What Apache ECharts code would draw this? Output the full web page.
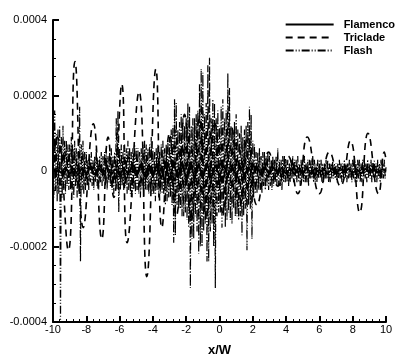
<!DOCTYPE html>
<html>
<head>
<meta charset="utf-8">
<script src="https://cdn.jsdelivr.net/npm/echarts@6/dist/echarts.min.js"></script>
<style>
  html, body { margin: 0; padding: 0; background: #fff; }
  #chart { width: 407px; height: 362px; }
</style>
</head>
<body>
<div id="chart"></div>
<script>
  // values in units of 1e-5
  const UNIT = 1e-5

  // Flamenco: sampled every 0.25 from x=-10
  const flamencoX0 = -10
  const flamencoDx = 0.25
  const flamencoY = [
    0, 0.8, -0.6, 1.0, -0.9, 0.7, -1.1, 0.9, -0.8, 1.2,
    -1.0, 0.8, -0.7, 1.1, -0.9, 0.6, -1.2, 1.0, -0.8, 0.9,
    -1.3, 1.4, -1.5, 1.8, -1.6, 2.0, -2.2, 1.9, -2.4, 2.1,
    -1.8, 2.3, -2.0, 2.5, -2.1, 1.9, -1.7, 2.2, -1.9, 1.6,
    -1.4, 1.5, -1.3, 1.2, -1.1, 1.4, -1.2, 1.0, -0.9, 1.1,
    -1.0, 0.8, -0.9, 1.0, -0.7, 0.9, -0.8, 0.7, -0.9, 0.8,
    -0.6, 0.9, -0.7, 0.8, -0.6, 0.7, -0.8, 0.6, -0.7, 0.8,
    -0.5, 0.7, -0.6, 0.5, -0.7, 0.6, -0.5, 0.6, -0.4, 0.5,
    0
  ]

  // Triclade: peaks and troughs as read
  const tricladeX = [
    -10.0, -9.75, -9.08, -8.68, -8.18, -7.58, -7.07, -6.69, -6.35, -5.87,
    -5.55, -4.83, -4.37, -3.82, -3.46, -3.0, -2.6, -2.1, -1.7, -1.2,
    -0.8, -0.3, 0.2, 0.7, 1.2, 1.7, 2.25, 2.95, 3.5, 4.1,
    4.7, 5.27, 6.0, 6.6, 7.26, 7.86, 8.42, 8.92, 9.55, 9.9, 10.0
  ]
  const tricladeY = [
    2, 9, -21, 29, -15, 12.5, -18, 9, -7, 23,
    -19, 21, -28, 27, -15, 10, -12, 15, -13, 14,
    -12, 13, -11, 12, -10, 9, -9, 5, -4, 4,
    -6, 9, -6, 5, -4, 8, -11, 10, -6, 5, 3
  ]

  // Flash: sampled every 0.05 from x=-10, one row per unit of x
  const flashX0 = -10
  const flashDx = 0.05
  const flashY = [
    5, -7, 16, -5, 10, -8, 11, -6, 12, -41, 9, -7, 12, -5, 8, -6, 8, -4, 7, -5,
    7, -5, 9, -6, 6, -7, 8, -4, 6, -7, 5, -6, 17, -24, 7, -5, 8, -6, 5, -5,
    5, -4, 3, -5, 4, -3, 5, -4, 3, -5, 4, -3, 6, -4, 3, -5, 4, -3, 5, -4,
    4, -3, 5, -4, 6, -5, 4, -3, 5, -4, 6, -5, 4, -6, 5, -4, 14, -5, 16, -11,
    6, -5, 7, -4, 5, -5, 7, -4, 6, -6, 8, -5, 6, -6, 5, -7, 6, -5, 7, -6,
    6, -5, 6, -6, 5, -7, 6, -5, 7, -7, 8, -5, 7, -5, 6, -6, 7, -6, 9, -6,
    6, -6, 5, -8, 6, -5, 7, -7, 5, -6, 7, -6, 8, -6, 6, -9, 7, -8, 8, -7,
    9, -7, 11, -9, 12, -19, 19, -17, 18, -9, 11, -10, 13, -10, 15, -12, 14, -12, 12, -11,
    14, -13, 18, -15, 17, -31, 12, -18, 14, -18, 14, -12, 15, -16, 16, -22, 23, -20, 27, -20,
    26, -16, 15, -14, 18, -24, 28, -24, 30, -16, 14, -14, 19, -20, 18, -31, 14, -12, 16, -11,
    12, -11, 17, -15, 19, -12, 14, -15, 16, -13, 26, -11, 22, -13, 12, -14, 11, -10, 13, -12,
    15, -12, 11, -13, 10, -12, 12, -17, 9, -12, 11, -10, 12, -21, 13, -9, 17, -10, 15, -18,
    8, -7, 7, -6, 5, -6, 5, -5, 6, -5, 4, -6, 5, -4, 5, -5, 4, -4, 5, -5,
    4, -4, 3, -5, 4, -4, 3, -3, 4, -4, 6, -4, 3, -4, 3, -5, 4, -3, 4, -3,
    3, -3, 3, -4, 2, -3, 3, -2, 4, -3, 3, -2, 3, -3, 4, -3, 2, -4, 3, -2,
    3, -3, 4, -3, 2, -3, 3, -4, 3, -2, 3, -2, 4, -3, 3, -3, 2, -3, 3, -2,
    3, -2, 3, -3, 2, -3, 2, -2, 3, -2, 3, -3, 2, -3, 2, -2, 3, -2, 2, -2,
    2, -3, 2, -2, 3, -2, 2, -3, 2, -2, 3, -2, 2, -3, 2, -2, 3, -2, 2, -3,
    3, -2, 4, -3, 2, -3, 3, -2, 3, -3, 2, -3, 3, -2, 3, -2, 2, -3, 3, -2,
    2, -2, 3, -3, 2, -2, 3, -2, 2, -3, 3, -2, 2, -3, 3, -2, 2, -2, 3, -2,
    1
  ]

  const yTicks = [-0.0004, -0.0002, 0, 0.0002, 0.0004]

  const sampled = (x0, dx, ys) => ys.map((v, i) => [x0 + i * dx, v * UNIT])
  const paired = (xs, ys) => xs.map((x, i) => [x, ys[i] * UNIT])

  const font = '"Liberation Sans", Arial, Helvetica, sans-serif'
  const chart = echarts.init(document.getElementById('chart'), null, { renderer: 'canvas' })

  chart.setOption({
    animation: false,
    backgroundColor: '#fff',
    textStyle: { fontFamily: font, color: '#000' },
    grid: { left: 53, right: 21, top: 20, bottom: 40, containLabel: false, outerBoundsMode: 'none' },
    legend: {
      orient: 'vertical',
      right: 12,
      top: 19,
      padding: 0,
      itemWidth: 48,
      itemHeight: 10,
      itemGap: 2,
      itemStyle: { opacity: 0 },
      textStyle: { fontFamily: font, fontWeight: 'bold', fontSize: 11, lineHeight: 11, color: '#000', padding: [0, 0, 0, 5] },
      data: ['Flamenco', 'Triclade', 'Flash']
    },
    xAxis: {
      type: 'value',
      min: -10,
      max: 10,
      interval: 2,
      name: 'x/W',
      nameLocation: 'middle',
      nameGap: 22,
      nameTextStyle: { fontFamily: font, fontWeight: 'bold', fontSize: 13, color: '#000' },
      splitLine: { show: false },
      axisLine: { onZero: false, lineStyle: { color: '#000', width: 2 } },
      axisTick: { inside: true, length: 6, lineStyle: { color: '#000', width: 2 } },
      minorTick: { show: true, splitNumber: 5, length: 3, lineStyle: { color: '#000', width: 1 } },
      axisLabel: { margin: 2, fontSize: 11, color: '#000', fontFamily: font }
    },
    yAxis: {
      type: 'value',
      min: yTicks[0],
      max: yTicks[yTicks.length - 1],
      interval: 0.0002,
      name: 'ND{sub|u}',
      nameLocation: 'middle',
      nameGap: 38,
      nameTextStyle: {
        fontFamily: font, fontWeight: 'bold', fontSize: 13, color: '#000',
        rich: { sub: { fontFamily: font, fontWeight: 'bold', fontSize: 8, color: '#000', padding: [6, 0, 0, 0] } }
      },
      splitLine: { show: false },
      axisLine: { onZero: false, lineStyle: { color: '#000', width: 2 } },
      axisTick: { inside: true, length: 6, lineStyle: { color: '#000', width: 2 } },
      minorTick: { show: true, splitNumber: 4, length: 3, lineStyle: { color: '#000', width: 1 } },
      axisLabel: {
        margin: 6, fontSize: 11, color: '#000', fontFamily: font,
        formatter: v => Math.abs(v) < 1e-12 ? '0' : v.toFixed(4)
      }
    },
    series: [
      {
        name: 'Flamenco',
        type: 'line',
        symbol: 'none',
        data: sampled(flamencoX0, flamencoDx, flamencoY),
        lineStyle: { color: '#000', width: 1.8, type: 'solid' },
        itemStyle: { color: '#000' }
      },
      {
        name: 'Triclade',
        type: 'line',
        symbol: 'none',
        smooth: 0.5,
        data: paired(tricladeX, tricladeY),
        lineStyle: { color: '#000', width: 1.6, type: [7, 5] },
        itemStyle: { color: '#000' }
      },
      {
        name: 'Flash',
        type: 'line',
        symbol: 'none',
        data: sampled(flashX0, flashDx, flashY),
        lineStyle: { color: '#000', width: 1.2, type: [8, 2, 1, 2, 1, 2] },
        itemStyle: { color: '#000' }
      }
    ]
  })
</script>
</body>
</html>
